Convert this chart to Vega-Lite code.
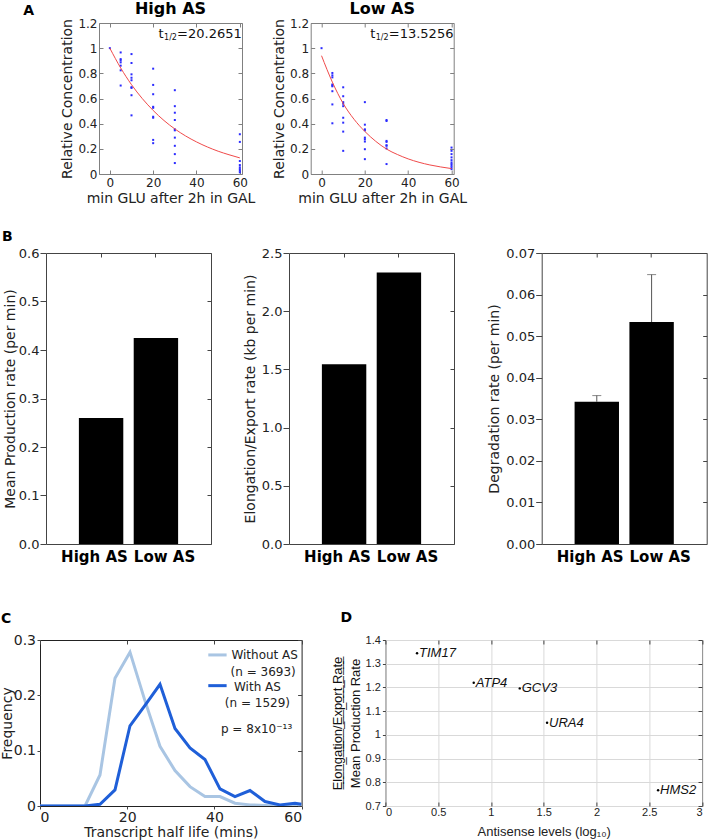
{
  "$schema": "https://vega.github.io/schema/vega-lite/v6.json",
  "padding": 0,
  "background": "white",
  "config": {
    "font": "DejaVu Sans",
    "view": {"stroke": "#333"},
    "axis": {"grid": false, "domain": false, "labelColor": "#222", "titleColor": "#222", "titleFontWeight": "normal", "tickColor": "#444"},
    "title": {"color": "#000"}
  },
  "datasets": {
    "a_pts": [
      {"panel": "High AS", "t": 0, "c": 1.0},
      {"panel": "High AS", "t": 5, "c": 0.966}, {"panel": "High AS", "t": 5, "c": 0.913}, {"panel": "High AS", "t": 5, "c": 0.903}, {"panel": "High AS", "t": 5, "c": 0.887}, {"panel": "High AS", "t": 5, "c": 0.861}, {"panel": "High AS", "t": 5, "c": 0.824}, {"panel": "High AS", "t": 5, "c": 0.703},
      {"panel": "High AS", "t": 10, "c": 0.953}, {"panel": "High AS", "t": 10, "c": 0.882}, {"panel": "High AS", "t": 10, "c": 0.792}, {"panel": "High AS", "t": 10, "c": 0.765}, {"panel": "High AS", "t": 10, "c": 0.745}, {"panel": "High AS", "t": 10, "c": 0.69}, {"panel": "High AS", "t": 10, "c": 0.684}, {"panel": "High AS", "t": 10, "c": 0.626}, {"panel": "High AS", "t": 10, "c": 0.466},
      {"panel": "High AS", "t": 20, "c": 0.837}, {"panel": "High AS", "t": 20, "c": 0.708}, {"panel": "High AS", "t": 20, "c": 0.634}, {"panel": "High AS", "t": 20, "c": 0.534}, {"panel": "High AS", "t": 20, "c": 0.526}, {"panel": "High AS", "t": 20, "c": 0.455}, {"panel": "High AS", "t": 20, "c": 0.447}, {"panel": "High AS", "t": 20, "c": 0.271}, {"panel": "High AS", "t": 20, "c": 0.245},
      {"panel": "High AS", "t": 30, "c": 0.666}, {"panel": "High AS", "t": 30, "c": 0.539}, {"panel": "High AS", "t": 30, "c": 0.487}, {"panel": "High AS", "t": 30, "c": 0.429}, {"panel": "High AS", "t": 30, "c": 0.355}, {"panel": "High AS", "t": 30, "c": 0.347}, {"panel": "High AS", "t": 30, "c": 0.289}, {"panel": "High AS", "t": 30, "c": 0.224}, {"panel": "High AS", "t": 30, "c": 0.158}, {"panel": "High AS", "t": 30, "c": 0.087},
      {"panel": "High AS", "t": 60, "c": 0.316}, {"panel": "High AS", "t": 60, "c": 0.255}, {"panel": "High AS", "t": 60, "c": 0.103}, {"panel": "High AS", "t": 60, "c": 0.071}, {"panel": "High AS", "t": 60, "c": 0.053}, {"panel": "High AS", "t": 60, "c": 0.039}, {"panel": "High AS", "t": 60, "c": 0.026}, {"panel": "High AS", "t": 60, "c": 0.013},
      {"panel": "Low AS", "t": 0, "c": 1.0},
      {"panel": "Low AS", "t": 5, "c": 0.803}, {"panel": "Low AS", "t": 5, "c": 0.784}, {"panel": "Low AS", "t": 5, "c": 0.768}, {"panel": "Low AS", "t": 5, "c": 0.711}, {"panel": "Low AS", "t": 5, "c": 0.703}, {"panel": "Low AS", "t": 5, "c": 0.697}, {"panel": "Low AS", "t": 5, "c": 0.658}, {"panel": "Low AS", "t": 5, "c": 0.553}, {"panel": "Low AS", "t": 5, "c": 0.403},
      {"panel": "Low AS", "t": 10, "c": 0.689}, {"panel": "Low AS", "t": 10, "c": 0.618}, {"panel": "Low AS", "t": 10, "c": 0.571}, {"panel": "Low AS", "t": 10, "c": 0.558}, {"panel": "Low AS", "t": 10, "c": 0.539}, {"panel": "Low AS", "t": 10, "c": 0.447}, {"panel": "Low AS", "t": 10, "c": 0.408}, {"panel": "Low AS", "t": 10, "c": 0.337}, {"panel": "Low AS", "t": 10, "c": 0.184},
      {"panel": "Low AS", "t": 20, "c": 0.571}, {"panel": "Low AS", "t": 20, "c": 0.392}, {"panel": "Low AS", "t": 20, "c": 0.355}, {"panel": "Low AS", "t": 20, "c": 0.347}, {"panel": "Low AS", "t": 20, "c": 0.289}, {"panel": "Low AS", "t": 20, "c": 0.276}, {"panel": "Low AS", "t": 20, "c": 0.258}, {"panel": "Low AS", "t": 20, "c": 0.197}, {"panel": "Low AS", "t": 20, "c": 0.118},
      {"panel": "Low AS", "t": 30, "c": 0.429}, {"panel": "Low AS", "t": 30, "c": 0.421}, {"panel": "Low AS", "t": 30, "c": 0.263}, {"panel": "Low AS", "t": 30, "c": 0.255}, {"panel": "Low AS", "t": 30, "c": 0.229}, {"panel": "Low AS", "t": 30, "c": 0.224}, {"panel": "Low AS", "t": 30, "c": 0.203}, {"panel": "Low AS", "t": 30, "c": 0.079},
      {"panel": "Low AS", "t": 60, "c": 0.21}, {"panel": "Low AS", "t": 60, "c": 0.184}, {"panel": "Low AS", "t": 60, "c": 0.158}, {"panel": "Low AS", "t": 60, "c": 0.132}, {"panel": "Low AS", "t": 60, "c": 0.11}, {"panel": "Low AS", "t": 60, "c": 0.092}, {"panel": "Low AS", "t": 60, "c": 0.079}, {"panel": "Low AS", "t": 60, "c": 0.066}, {"panel": "Low AS", "t": 60, "c": 0.053}, {"panel": "Low AS", "t": 60, "c": 0.039}
    ],
    "a_fit": [
      {"panel": "High AS", "t": 0, "c": 1.0}, {"panel": "High AS", "t": 5, "c": 0.843}, {"panel": "High AS", "t": 10, "c": 0.71}, {"panel": "High AS", "t": 15, "c": 0.599}, {"panel": "High AS", "t": 20, "c": 0.505}, {"panel": "High AS", "t": 25, "c": 0.425}, {"panel": "High AS", "t": 30, "c": 0.358}, {"panel": "High AS", "t": 35, "c": 0.302}, {"panel": "High AS", "t": 40, "c": 0.255}, {"panel": "High AS", "t": 45, "c": 0.215}, {"panel": "High AS", "t": 50, "c": 0.181}, {"panel": "High AS", "t": 55, "c": 0.153}, {"panel": "High AS", "t": 60, "c": 0.128},
      {"panel": "Low AS", "t": 0, "c": 0.94}, {"panel": "Low AS", "t": 5, "c": 0.73}, {"panel": "Low AS", "t": 10, "c": 0.56}, {"panel": "Low AS", "t": 15, "c": 0.435}, {"panel": "Low AS", "t": 20, "c": 0.338}, {"panel": "Low AS", "t": 25, "c": 0.26}, {"panel": "Low AS", "t": 30, "c": 0.198}, {"panel": "Low AS", "t": 35, "c": 0.155}, {"panel": "Low AS", "t": 40, "c": 0.12}, {"panel": "Low AS", "t": 45, "c": 0.093}, {"panel": "Low AS", "t": 50, "c": 0.072}, {"panel": "Low AS", "t": 55, "c": 0.056}, {"panel": "Low AS", "t": 60, "c": 0.043}
    ],
    "a_ann": [
      {"panel": "High AS", "x": 22.5, "y": 1.113, "t": "t", "sub": "1/2", "rest": "=20.2651"},
      {"panel": "Low AS", "x": 22.5, "y": 1.113, "t": "t", "sub": "1/2", "rest": "=13.5256"}
    ],
    "b_bars": [
      {"panel": "prod", "cond": "High AS", "v": 0.2596},
      {"panel": "prod", "cond": "Low AS", "v": 0.4245},
      {"panel": "elong", "cond": "High AS", "v": 1.544},
      {"panel": "elong", "cond": "Low AS", "v": 2.333},
      {"panel": "degr", "cond": "High AS", "v": 0.0342, "err": 0.0357},
      {"panel": "degr", "cond": "Low AS", "v": 0.0534, "err": 0.0648}
    ],
    "c_lines": [
      {"series": "Without AS", "x": 0, "y": 0}, {"series": "Without AS", "x": 3.44, "y": 0}, {"series": "Without AS", "x": 6.88, "y": 0}, {"series": "Without AS", "x": 10.32, "y": 0}, {"series": "Without AS", "x": 13.76, "y": 0.056}, {"series": "Without AS", "x": 17.2, "y": 0.231}, {"series": "Without AS", "x": 20.64, "y": 0.278}, {"series": "Without AS", "x": 24.08, "y": 0.19}, {"series": "Without AS", "x": 27.52, "y": 0.108}, {"series": "Without AS", "x": 30.96, "y": 0.064}, {"series": "Without AS", "x": 34.4, "y": 0.035}, {"series": "Without AS", "x": 37.84, "y": 0.017}, {"series": "Without AS", "x": 41.28, "y": 0.017}, {"series": "Without AS", "x": 44.72, "y": 0.005}, {"series": "Without AS", "x": 48.16, "y": 0.002}, {"series": "Without AS", "x": 51.6, "y": 0.001}, {"series": "Without AS", "x": 55.04, "y": 0}, {"series": "Without AS", "x": 58.48, "y": 0}, {"series": "Without AS", "x": 60, "y": 0},
      {"series": "With AS", "x": 0, "y": 0}, {"series": "With AS", "x": 3.44, "y": 0}, {"series": "With AS", "x": 6.88, "y": 0}, {"series": "With AS", "x": 10.32, "y": 0}, {"series": "With AS", "x": 13.76, "y": 0.003}, {"series": "With AS", "x": 17.2, "y": 0.029}, {"series": "With AS", "x": 20.64, "y": 0.145}, {"series": "With AS", "x": 24.08, "y": 0.182}, {"series": "With AS", "x": 27.52, "y": 0.22}, {"series": "With AS", "x": 30.96, "y": 0.14}, {"series": "With AS", "x": 34.4, "y": 0.105}, {"series": "With AS", "x": 37.84, "y": 0.084}, {"series": "With AS", "x": 41.28, "y": 0.031}, {"series": "With AS", "x": 44.72, "y": 0.017}, {"series": "With AS", "x": 48.16, "y": 0.028}, {"series": "With AS", "x": 51.6, "y": 0.008}, {"series": "With AS", "x": 55.04, "y": 0.002}, {"series": "With AS", "x": 58.48, "y": 0.005}, {"series": "With AS", "x": 60, "y": 0.003}
    ],
    "c_swatch": [
      {"series": "Without AS", "x": 38.6, "x2": 42.8, "y": 0.273},
      {"series": "With AS", "x": 38.6, "x2": 42.8, "y": 0.2175}
    ],
    "c_text": [
      {"x": 43.9, "y": 0.273, "label": "Without AS"},
      {"x": 43.7, "y": 0.243, "label": "(n = 3693)"},
      {"x": 44.5, "y": 0.2145, "label": "With AS"},
      {"x": 42.4, "y": 0.187, "label": "(n = 1529)"},
      {"x": 41.5, "y": 0.139, "label": "p = 8x10⁻¹³"}
    ],
    "d_pts": [
      {"gene": "TIM17", "x": 0.30, "y": 1.344},
      {"gene": "ATP4", "x": 0.837, "y": 1.22},
      {"gene": "GCV3", "x": 1.273, "y": 1.196},
      {"gene": "URA4", "x": 1.532, "y": 1.051},
      {"gene": "HMS2", "x": 2.584, "y": 0.766}
    ]
  },
  "spacing": 23,
  "vconcat": [
    {
      "title": {"text": "A", "anchor": "start", "frame": "group", "dx": -16.7, "dy": 17, "fontSize": 14, "fontWeight": "bold", "offset": 0},
      "bounds": "flush",
      "spacing": 0,
      "hconcat": [
        {"width": 58.3, "height": 1, "data": {"values": []}, "mark": {"type": "point", "opacity": 0}, "view": {"stroke": null}},
        {
          "bounds": "flush",
          "spacing": 68.7,
          "hconcat": [
            {
              "width": 143, "height": 151,
              "title": {"text": "High AS", "fontSize": 16, "fontWeight": "bold", "offset": 0},
              "view": {"stroke": "#808080"},
              "layer": [
                {"data": {"name": "a_pts"}, "transform": [{"filter": "datum.panel == 'High AS'"}],
                 "mark": {"type": "square", "size": 4, "color": "#2b2bff", "opacity": 1},
                 "encoding": {
                   "x": {"field": "t", "type": "quantitative", "scale": {"domain": [-5, 61], "nice": false, "zero": false},
                         "axis": {"orient": "bottom", "values": [0, 20, 40, 60], "tickSize": -4, "tickColor": "#808080", "labelPadding": 7, "labelFontSize": 12, "title": "min GLU after 2h in GAL", "titleFontSize": 14, "titlePadding": 3}},
                   "y": {"field": "c", "type": "quantitative", "scale": {"domain": [0, 1.2], "nice": false},
                         "axis": {"values": [0, 0.2, 0.4, 0.6, 0.8, 1, 1.2], "format": "~g", "tickSize": -4, "tickColor": "#808080", "labelPadding": 6, "labelFontSize": 12, "title": "Relative Concentration", "titleFontSize": 14, "titlePadding": 3}}}},
                {"data": {"name": "a_fit"}, "transform": [{"filter": "datum.panel == 'High AS'"}],
                 "mark": {"type": "line", "color": "#f04a4a", "strokeWidth": 1, "interpolate": "monotone"},
                 "encoding": {
                   "x": {"field": "t", "type": "quantitative", "axis": {"orient": "top", "values": [0, 20, 40, 60], "tickSize": -4, "tickColor": "#808080", "labels": false, "title": null}},
                   "y": {"field": "c", "type": "quantitative", "axis": {"orient": "right", "values": [0, 0.2, 0.4, 0.6, 0.8, 1, 1.2], "tickSize": -4, "tickColor": "#808080", "labels": false, "title": null}}}},
                {"data": {"name": "a_ann"}, "transform": [{"filter": "datum.panel == 'High AS'"}],
                 "mark": {"type": "text", "align": "left", "baseline": "middle", "fontSize": 13, "color": "#111"},
                 "encoding": {"x": {"field": "x", "type": "quantitative", "axis": null}, "y": {"field": "y", "type": "quantitative", "axis": null}, "text": {"field": "t"}}},
                {"data": {"name": "a_ann"}, "transform": [{"filter": "datum.panel == 'High AS'"}],
                 "mark": {"type": "text", "align": "left", "baseline": "middle", "fontSize": 8, "dx": 5.5, "dy": 4, "color": "#111"},
                 "encoding": {"x": {"field": "x", "type": "quantitative", "axis": null}, "y": {"field": "y", "type": "quantitative", "axis": null}, "text": {"field": "sub"}}},
                {"data": {"name": "a_ann"}, "transform": [{"filter": "datum.panel == 'High AS'"}],
                 "mark": {"type": "text", "align": "left", "baseline": "middle", "fontSize": 13, "dx": 18.5, "color": "#111"},
                 "encoding": {"x": {"field": "x", "type": "quantitative", "axis": null}, "y": {"field": "y", "type": "quantitative", "axis": null}, "text": {"field": "rest"}}}
              ],
              "resolve": {"axis": {"x": "independent", "y": "independent"}}
            },
            {
              "width": 143, "height": 151,
              "title": {"text": "Low AS", "fontSize": 16, "fontWeight": "bold", "offset": 0},
              "view": {"stroke": "#808080"},
              "layer": [
                {"data": {"name": "a_pts"}, "transform": [{"filter": "datum.panel == 'Low AS'"}],
                 "mark": {"type": "square", "size": 4, "color": "#2b2bff", "opacity": 1},
                 "encoding": {
                   "x": {"field": "t", "type": "quantitative", "scale": {"domain": [-5, 61], "nice": false, "zero": false},
                         "axis": {"orient": "bottom", "values": [0, 20, 40, 60], "tickSize": -4, "tickColor": "#808080", "labelPadding": 7, "labelFontSize": 12, "title": "min GLU after 2h in GAL", "titleFontSize": 14, "titlePadding": 3}},
                   "y": {"field": "c", "type": "quantitative", "scale": {"domain": [0, 1.2], "nice": false},
                         "axis": {"values": [0, 0.2, 0.4, 0.6, 0.8, 1, 1.2], "format": "~g", "tickSize": -4, "tickColor": "#808080", "labelPadding": 6, "labelFontSize": 12, "title": "Relative Concentration", "titleFontSize": 14, "titlePadding": 3}}}},
                {"data": {"name": "a_fit"}, "transform": [{"filter": "datum.panel == 'Low AS'"}],
                 "mark": {"type": "line", "color": "#f04a4a", "strokeWidth": 1, "interpolate": "monotone"},
                 "encoding": {
                   "x": {"field": "t", "type": "quantitative", "axis": {"orient": "top", "values": [0, 20, 40, 60], "tickSize": -4, "tickColor": "#808080", "labels": false, "title": null}},
                   "y": {"field": "c", "type": "quantitative", "axis": {"orient": "right", "values": [0, 0.2, 0.4, 0.6, 0.8, 1, 1.2], "tickSize": -4, "tickColor": "#808080", "labels": false, "title": null}}}},
                {"data": {"name": "a_ann"}, "transform": [{"filter": "datum.panel == 'Low AS'"}],
                 "mark": {"type": "text", "align": "left", "baseline": "middle", "fontSize": 13, "color": "#111"},
                 "encoding": {"x": {"field": "x", "type": "quantitative", "axis": null}, "y": {"field": "y", "type": "quantitative", "axis": null}, "text": {"field": "t"}}},
                {"data": {"name": "a_ann"}, "transform": [{"filter": "datum.panel == 'Low AS'"}],
                 "mark": {"type": "text", "align": "left", "baseline": "middle", "fontSize": 8, "dx": 5.5, "dy": 4, "color": "#111"},
                 "encoding": {"x": {"field": "x", "type": "quantitative", "axis": null}, "y": {"field": "y", "type": "quantitative", "axis": null}, "text": {"field": "sub"}}},
                {"data": {"name": "a_ann"}, "transform": [{"filter": "datum.panel == 'Low AS'"}],
                 "mark": {"type": "text", "align": "left", "baseline": "middle", "fontSize": 13, "dx": 18.5, "color": "#111"},
                 "encoding": {"x": {"field": "x", "type": "quantitative", "axis": null}, "y": {"field": "y", "type": "quantitative", "axis": null}, "text": {"field": "rest"}}}
              ],
              "resolve": {"axis": {"x": "independent", "y": "independent"}}
            }
          ]
        }
      ]
    },
    {
      "bounds": "flush",
      "spacing": 0,
      "hconcat": [
        {"width": 5.3, "height": 1, "data": {"values": []}, "mark": {"type": "point", "opacity": 0}, "view": {"stroke": null}},
        {
          "bounds": "flush",
          "spacing": 78,
          "hconcat": [
            {
              "width": 165, "height": 291,
              "title": {"text": "B", "anchor": "start", "frame": "group", "dx": -44, "fontSize": 14, "fontWeight": "bold", "offset": 3},
              "data": {"name": "b_bars"},
              "transform": [{"filter": "datum.panel == 'prod'"}],
              "view": {"stroke": "#444"},
              "layer": [
                {"mark": {"type": "bar", "color": "#000"},
                 "encoding": {
                   "x": {"field": "cond", "type": "nominal", "sort": null, "scale": {"paddingInner": 0.19, "paddingOuter": 0.6},
                         "axis": {"title": "\u00a0", "titleFontSize": 18, "titlePadding": 4, "labelAngle": 0, "labelFontWeight": "bold", "labelFontSize": 15, "labelColor": "#000", "ticks": false, "labelPadding": 5, "labelOverlap": false, "labelBound": false, "labelOffset": {"condition": {"test": "datum.value === 'High AS'", "value": -6.6}, "value": 8.6}}},
                   "y": {"field": "v", "type": "quantitative", "scale": {"domain": [0, 0.6], "nice": false},
                         "axis": {"values": [0, 0.1, 0.2, 0.3, 0.4, 0.5, 0.6], "format": ".1f", "tickSize": 6, "labelPadding": 1, "labelFontSize": 13, "title": "Mean Production rate (per min)", "titleFontSize": 14, "titlePadding": 1}}}},
                {"mark": {"type": "bar", "opacity": 0},
                 "encoding": {
                   "x": {"field": "cond", "type": "nominal", "sort": null, "axis": {"orient": "top", "tickSize": -4, "labels": false, "title": null}},
                   "y": {"field": "v", "type": "quantitative", "axis": {"orient": "right", "values": [0, 0.1, 0.2, 0.3, 0.4, 0.5, 0.6], "tickSize": -4, "labels": false, "title": null}}}}
              ],
              "resolve": {"axis": {"x": "independent", "y": "independent"}}
            },
            {
              "bounds": "flush",
              "spacing": 87.7,
              "hconcat": [
                {
                  "width": 165, "height": 291,
                  "data": {"name": "b_bars"},
                  "transform": [{"filter": "datum.panel == 'elong'"}],
                  "view": {"stroke": "#444"},
                  "layer": [
                    {"mark": {"type": "bar", "color": "#000"},
                     "encoding": {
                       "x": {"field": "cond", "type": "nominal", "sort": null, "scale": {"paddingInner": 0.19, "paddingOuter": 0.6},
                             "axis": {"title": null, "labelAngle": 0, "labelFontWeight": "bold", "labelFontSize": 15, "labelColor": "#000", "ticks": false, "labelPadding": 5, "labelOverlap": false, "labelBound": false, "labelOffset": {"condition": {"test": "datum.value === 'High AS'", "value": -6.6}, "value": 8.6}}},
                       "y": {"field": "v", "type": "quantitative", "scale": {"domain": [0, 2.5], "nice": false},
                             "axis": {"values": [0, 0.5, 1, 1.5, 2, 2.5], "format": ".1f", "tickSize": 6, "labelPadding": 1, "labelFontSize": 13, "title": "Elongation/Export rate (kb per min)", "titleFontSize": 14, "titlePadding": 4}}}},
                    {"mark": {"type": "bar", "opacity": 0},
                     "encoding": {
                       "x": {"field": "cond", "type": "nominal", "sort": null, "axis": {"orient": "top", "tickSize": -4, "labels": false, "title": null}},
                       "y": {"field": "v", "type": "quantitative", "axis": {"orient": "right", "values": [0, 0.5, 1, 1.5, 2, 2.5], "tickSize": -4, "labels": false, "title": null}}}}
                  ],
                  "resolve": {"axis": {"x": "independent", "y": "independent"}}
                },
                {
                  "width": 165, "height": 291,
                  "data": {"name": "b_bars"},
                  "transform": [{"filter": "datum.panel == 'degr'"}],
                  "view": {"stroke": "#444"},
                  "layer": [
                    {"mark": {"type": "bar", "color": "#000"},
                     "encoding": {
                       "x": {"field": "cond", "type": "nominal", "sort": null, "scale": {"paddingInner": 0.19, "paddingOuter": 0.6},
                             "axis": {"title": null, "labelAngle": 0, "labelFontWeight": "bold", "labelFontSize": 15, "labelColor": "#000", "ticks": false, "labelPadding": 5, "labelOverlap": false, "labelBound": false, "labelOffset": {"condition": {"test": "datum.value === 'High AS'", "value": -6.6}, "value": 8.6}}},
                       "y": {"field": "v", "type": "quantitative", "scale": {"domain": [0, 0.07], "nice": false},
                             "axis": {"values": [0, 0.01, 0.02, 0.03, 0.04, 0.05, 0.06, 0.07], "format": ".2f", "tickSize": 6, "labelPadding": 1, "labelFontSize": 13, "title": "Degradation rate (per min)", "titleFontSize": 14, "titlePadding": 4}}}},
                    {"mark": {"type": "rule", "color": "#555", "strokeWidth": 1},
                     "encoding": {
                       "x": {"field": "cond", "type": "nominal", "sort": null, "axis": {"orient": "top", "tickSize": -4, "labels": false, "title": null}},
                       "y": {"field": "v", "type": "quantitative", "axis": {"orient": "right", "values": [0, 0.01, 0.02, 0.03, 0.04, 0.05, 0.06, 0.07], "tickSize": -4, "labels": false, "title": null}},
                       "y2": {"field": "err"}}},
                    {"mark": {"type": "tick", "color": "#555", "thickness": 1, "size": 9, "orient": "horizontal"},
                     "encoding": {
                       "x": {"field": "cond", "type": "nominal", "sort": null, "axis": null},
                       "y": {"field": "err", "type": "quantitative", "axis": null}}}
                  ],
                  "resolve": {"axis": {"x": "independent", "y": "independent"}}
                }
              ]
            }
          ]
        }
      ]
    },
    {
      "bounds": "flush",
      "spacing": 83.4,
      "hconcat": [
        {
          "width": 261.6, "height": 166,
          "title": {"text": "C", "anchor": "start", "frame": "group", "dx": -39, "fontSize": 14, "fontWeight": "bold", "offset": 7},
          "view": {"stroke": "#222"},
          "layer": [
            {"data": {"name": "c_lines"},
             "mark": {"type": "line", "strokeWidth": 3, "clip": true},
             "encoding": {
               "x": {"field": "x", "type": "quantitative", "scale": {"domain": [0, 60], "nice": false},
                     "axis": {"values": [0, 20, 40, 60], "tickSize": 3, "labelPadding": 1, "labelFontSize": 14, "title": "Transcript half life (mins)", "titleFontSize": 14, "titlePadding": 1}},
               "y": {"field": "y", "type": "quantitative", "scale": {"domain": [0, 0.3], "nice": false},
                     "axis": {"values": [0, 0.1, 0.2, 0.3], "format": "~g", "tickSize": 3, "labelPadding": 1.5, "labelFontSize": 14, "title": "Frequency", "titleFontSize": 14, "titlePadding": -1.5}},
               "color": {"field": "series", "type": "nominal", "scale": {"domain": ["Without AS", "With AS"], "range": ["#a9c5e3", "#1f5fd8"]}, "legend": null}}},
            {"data": {"name": "c_swatch"},
             "mark": {"type": "rule", "strokeWidth": 3},
             "encoding": {
               "x": {"field": "x", "type": "quantitative", "axis": {"orient": "top", "values": [0, 20, 40, 60], "tickSize": -4, "labels": false, "title": null}},
               "x2": {"field": "x2"},
               "y": {"field": "y", "type": "quantitative", "axis": {"orient": "right", "values": [0, 0.1, 0.2, 0.3], "tickSize": -4, "labels": false, "title": null}},
               "color": {"field": "series", "type": "nominal", "legend": null}}},
            {"data": {"name": "c_text"},
             "mark": {"type": "text", "align": "left", "baseline": "middle", "fontSize": 12, "color": "#222"},
             "encoding": {
               "x": {"field": "x", "type": "quantitative", "axis": null},
               "y": {"field": "y", "type": "quantitative", "axis": null},
               "text": {"field": "label"}}}
          ],
          "resolve": {"axis": {"x": "independent", "y": "independent"}}
        },
        {
          "width": 316.6, "height": 166,
          "title": {"text": "D", "anchor": "start", "frame": "group", "dx": -45, "fontSize": 14, "fontWeight": "bold", "offset": 9},
          "view": {"stroke": "#333"},
          "data": {"name": "d_pts"},
          "layer": [
            {"mark": {"type": "circle", "size": 6, "color": "#000", "opacity": 1},
             "encoding": {
               "x": {"field": "x", "type": "quantitative", "scale": {"domain": [0, 3], "nice": false},
                     "axis": {"values": [0, 0.5, 1, 1.5, 2, 2.5, 3], "format": "~g", "grid": true, "gridColor": "#d9d9d9", "tickSize": -4, "labelPadding": 4, "labelFont": "Liberation Sans", "labelFontSize": 11, "title": "Antisense levels (log₁₀)", "titleFont": "Liberation Sans", "titleFontSize": 13, "titlePadding": 8}},
               "y": {"field": "y", "type": "quantitative", "scale": {"domain": [0.7, 1.4], "nice": false},
                     "axis": {"values": [0.7, 0.8, 0.9, 1, 1.1, 1.2, 1.3, 1.4], "format": "~g", "grid": true, "gridColor": "#d9d9d9", "tickSize": 3, "labelPadding": 2, "labelFont": "Liberation Sans", "labelFontSize": 11, "title": ["E̲l̲o̲n̲g̲a̲t̲i̲o̲n̲/̲E̲x̲p̲o̲r̲t̲ ̲R̲a̲t̲e̲", "Mean Production Rate"], "titleFont": "Liberation Sans", "titleColor": "#111", "titleFontSize": 13, "titleLineHeight": 17.7, "titlePadding": 3}}}},
            {"mark": {"type": "text", "align": "left", "baseline": "middle", "dx": 2, "font": "Liberation Sans", "fontStyle": "italic", "fontSize": 13, "color": "#111"},
             "encoding": {
               "x": {"field": "x", "type": "quantitative", "axis": {"orient": "top", "values": [0, 0.5, 1, 1.5, 2, 2.5, 3], "tickSize": -4, "labels": false, "title": null, "grid": false}},
               "y": {"field": "y", "type": "quantitative", "axis": {"orient": "right", "values": [0.7, 0.8, 0.9, 1, 1.1, 1.2, 1.3, 1.4], "tickSize": -4, "labels": false, "title": null, "grid": false}},
               "text": {"field": "gene"}}}
          ],
          "resolve": {"axis": {"x": "independent", "y": "independent"}}
        }
      ]
    }
  ]
}
